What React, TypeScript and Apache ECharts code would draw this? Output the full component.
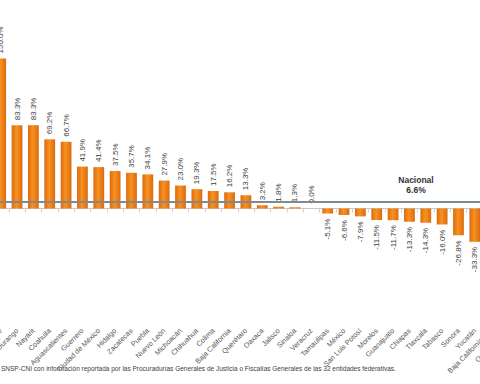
import React, { useEffect, useRef } from "react";
import * as echarts from "echarts";

const categories: string[] = [
  "Campeche", "Durango", "Nayarit", "Coahuila", "Aguascalientes", "Guerrero",
  "Ciudad de México", "Hidalgo", "Zacatecas", "Puebla", "Nuevo León", "Michoacán",
  "Chihuahua", "Colima", "Baja California", "Querétaro", "Oaxaca", "Jalisco",
  "Sinaloa", "Veracruz", "Tamaulipas", "México", "San Luis Potosí", "Morelos",
  "Guanajuato", "Chiapas", "Tlaxcala", "Tabasco", "Sonora", "Yucatán",
  "Baja California Sur", "Quintana Roo",
];

const values: number[] = [
  150.0, 83.3, 83.3, 69.2, 66.7, 41.9, 41.4, 37.5, 35.7, 34.1, 27.9, 23.0,
  19.3, 17.5, 16.2, 13.3, 3.2, 1.8, 1.3, 0.0, -5.1, -6.6, -7.9, -11.5,
  -11.7, -13.3, -14.3, -16.0, -26.8, -33.3, -40.0, -50.0,
];

const nationalValue = 6.6;
const nationalLabel = "Nacional";
const sourceText =
  "SNSP-CNI con información reportada por las Procuradurías Generales de Justicia o Fiscalías Generales de las 32 entidades federativas.";

const FONT = "'Liberation Sans', Arial, sans-serif";
const SHIFT = 20;

export default function App() {
  const ref = useRef<HTMLDivElement>(null);

  useEffect(() => {
    if (!ref.current) return;
    const chart = echarts.init(ref.current, null, { renderer: "svg" });

    const barColor = new echarts.graphic.LinearGradient(0, 0, 1, 0, [
      { offset: 0, color: "#dc6a10" },
      { offset: 0.45, color: "#f7921f" },
      { offset: 1, color: "#dc6a10" },
    ]);

    const data = values.map((v) => ({
      value: v,
      label:
        v >= 0
          ? { position: "top", align: "left", verticalAlign: "middle" }
          : { position: "bottom", align: "right", verticalAlign: "middle" },
    }));

    chart.setOption({
      animation: false,
      grid: {
        left: SHIFT - 7.5,
        width: 523.2,
        top: 48.5,
        bottom: 75.5,
        containLabel: false,
        outerBoundsMode: "none",
      },
      xAxis: {
        type: "category",
        data: categories,
        axisLine: { onZero: true, lineStyle: { color: "#c8c8c8", width: 1 } },
        axisTick: { show: true, length: 4, lineStyle: { color: "#d0d0d0" } },
        axisLabel: {
          rotate: 45,
          margin: 21,
          interval: 0,
          hideOverlap: false,
          fontSize: 7.2,
          color: "#555555",
          fontFamily: FONT,
        },
      },
      yAxis: {
        type: "value",
        min: -100,
        max: 160,
        show: false,
        splitLine: { show: false },
      },
      series: [
        {
          type: "bar",
          data,
          barCategoryGap: "34%",
          itemStyle: { color: barColor },
          label: {
            show: true,
            rotate: 90,
            distance: 5,
            fontSize: 8,
            color: "#404040",
            fontFamily: FONT,
            formatter: (p: any) => p.value.toFixed(1) + "%",
          },
          markLine: {
            silent: true,
            symbol: ["none", "none"],
            label: { show: false },
            lineStyle: { color: "#7d8a92", width: 2, type: "solid" },
            data: [{ yAxis: nationalValue }],
          },
        },
      ],
      graphic: [
        {
          type: "text",
          x: SHIFT + 416,
          y: 175,
          style: {
            text: nationalLabel + "\n" + nationalValue.toFixed(1) + "%",
            align: "center",
            verticalAlign: "top",
            fontSize: 8.5,
            fontWeight: "bold",
            lineHeight: 10,
            fill: "#333333",
            fontFamily: FONT,
          },
        },
        {
          type: "text",
          left: SHIFT + 1,
          top: 365,
          style: {
            text: sourceText,
            fontSize: 6.5,
            fill: "#404040",
            fontFamily: FONT,
          },
        },
      ],
    });

    return () => chart.dispose();
  }, []);

  return (
    <div
      style={{
        position: "fixed",
        left: 0,
        top: 0,
        width: 480,
        height: 384,
        overflow: "hidden",
        background: "#fff",
      }}
    >
      <div
        ref={ref}
        style={{ position: "absolute", left: -SHIFT, top: 0, width: 560, height: 384 }}
      />
    </div>
  );
}
